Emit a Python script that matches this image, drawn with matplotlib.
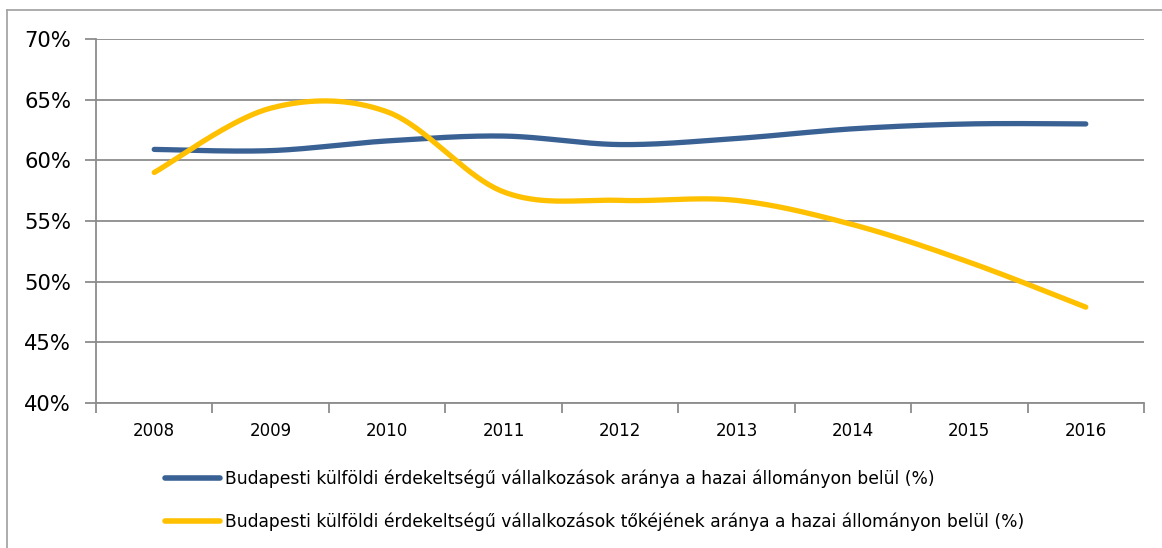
import numpy as np
import matplotlib
matplotlib.use("Agg")
import matplotlib.pyplot as plt
from matplotlib.lines import Line2D
from matplotlib.ticker import FixedLocator, FuncFormatter

years = ["2008", "2009", "2010", "2011", "2012", "2013", "2014", "2015", "2016"]
share_firms = [60.9, 60.8, 61.6, 62.0, 61.3, 61.8, 62.6, 63.0, 63.0]
share_capital = [59.0, 64.3, 64.0, 57.4, 56.7, 56.7, 54.7, 51.6, 47.9]
labels = [
    "Budapesti külföldi érdekeltségű vállalkozások aránya a hazai állományon belül (%)",
    "Budapesti külföldi érdekeltségű vállalkozások tőkéjének aránya a hazai állományon belül (%)",
]
colors = ["#3A6194", "#FFC000"]

W, H = 1162, 548


def smooth(xs, ys, n=40):
    """Catmull-Rom smoothing (Excel-style smoothed line) through the data points."""
    xs = np.asarray(xs, float)
    ys = np.asarray(ys, float)
    px = np.concatenate([[xs[0]], xs, [xs[-1]]])
    py = np.concatenate([[ys[0]], ys, [ys[-1]]])
    ox, oy = [], []
    for i in range(1, len(px) - 2):
        t = np.linspace(0, 1, n, endpoint=False)
        for P, out in ((px, ox), (py, oy)):
            p0, p1, p2, p3 = P[i - 1], P[i], P[i + 1], P[i + 2]
            m1 = (p2 - p0) / 2
            m2 = (p3 - p1) / 2
            h00 = 2 * t**3 - 3 * t**2 + 1
            h10 = t**3 - 2 * t**2 + t
            h01 = -2 * t**3 + 3 * t**2
            h11 = t**3 - t**2
            out.extend(h00 * p1 + h10 * m1 + h01 * p2 + h11 * m2)
    ox.append(xs[-1])
    oy.append(ys[-1])
    return np.array(ox), np.array(oy)


fig = plt.figure(figsize=(W / 100, H / 100), dpi=100)
ax = fig.add_axes([96 / W, 1 - 403 / H, (1144 - 96) / W, (403 - 39) / H])

x = np.arange(len(years))
for vals, c, lab in zip([share_firms, share_capital], colors, labels):
    sx, sy = smooth(x, vals)
    ax.plot(sx, sy, color=c, lw=3.8, solid_capstyle="round", label=lab, zorder=3)

ax.set_xlim(-0.5, len(years) - 0.5)
ax.set_ylim(40, 70)
ax.set_yticks(np.arange(40, 71, 5))
ax.yaxis.set_major_formatter(FuncFormatter(lambda v, p: f"{int(v)}%"))
ax.set_xticks(x)
ax.set_xticklabels(years)
ax.xaxis.set_minor_locator(FixedLocator(np.arange(-0.5, len(years), 1.0)))

ax.grid(axis="y", color="#8C8C8C", lw=1.3, zorder=0)
for s in ["top", "right"]:
    ax.spines[s].set_visible(False)
for s in ["left", "bottom"]:
    ax.spines[s].set_color("#8C8C8C")
    ax.spines[s].set_linewidth(1.3)

ax.tick_params(axis="y", which="major", length=8, width=1.3, color="#8C8C8C",
               labelsize=15.2, pad=10, labelcolor="black")
ax.tick_params(axis="x", which="major", length=0, labelsize=12, pad=14)
ax.tick_params(axis="x", which="minor", length=7, width=1.3, color="#8C8C8C")

leg = fig.legend(loc="upper left", bbox_to_anchor=(165 / W, 1 - 470 / H),
                 frameon=False, fontsize=12.35, handlelength=3.2, handletextpad=0.32,
                 labelspacing=1.42, borderpad=0, borderaxespad=0)
for h in leg.get_lines():
    h.set_linewidth(4)

fig.add_artist(Line2D([7 / W, 7 / W], [0, 1 - 10 / H], color="#A6A6A6", lw=1.3))
fig.add_artist(Line2D([7 / W, 1], [1 - 10 / H, 1 - 10 / H], color="#A6A6A6", lw=1.3))

fig.savefig("out.png", dpi=100)
